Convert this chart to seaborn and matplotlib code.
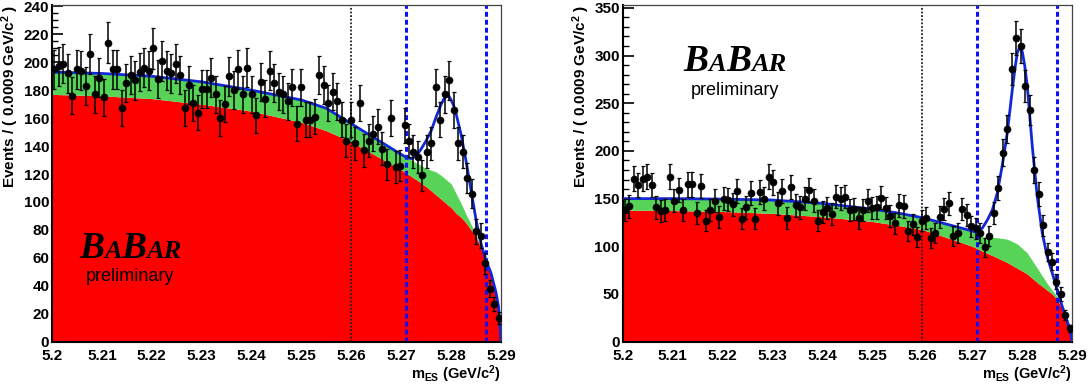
import numpy as np
import seaborn as sns
import matplotlib.pyplot as plt
from matplotlib.ticker import MultipleLocator, FormatStrFormatter
from matplotlib.offsetbox import TextArea, HPacker, VPacker, AnchoredOffsetbox

# binning of m_ES histograms
BIN_LO = 5.2
BIN_W = 0.0009

# ---- left panel ----
counts_1 = [195, 197, 199, 192, 176, 195, 194, 183, 206, 177,
            189, 175, 214, 195, 195, 167, 185, 191, 187, 193,
            196, 194, 210, 188, 201, 194, 192, 199, 191, 167,
            184, 171, 164, 181, 181, 189, 177, 160, 170, 190,
            180, 195, 177, 196, 177, 162, 186, 174, 194, 185,
            179, 177, 172, 182, 156, 182, 159, 159, 161, 191,
            184, 171, 179, 172, 159, 144, 159, 142, 171, 137,
            144, 149, 154, 138, 127, 160, 125, 126, 155, 144,
            136, 132, 119, 136, 142, 182, 159, 177, 187, 166,
            142, 136, 117, 106, 79, 76, 56, 38, 27, 17]

band_x_1 = [5.20, 5.21, 5.22, 5.23, 5.24, 5.25, 5.255, 5.26, 5.265, 5.27, 5.273,
            5.275, 5.277, 5.278, 5.279, 5.28, 5.281, 5.282, 5.283, 5.284, 5.285,
            5.286, 5.287, 5.288, 5.289, 5.2895, 5.29]
red_1 = [177, 176, 174, 170, 165, 157, 151, 143, 133, 123, 116,
         111, 105, 102, 99, 96, 92, 89, 85, 80, 75,
         67, 59, 48, 33, 23, 0]
green_1 = [193, 192, 190, 186, 180, 173, 167, 156, 145, 134, 128,
           124, 121.5, 119, 116, 113, 106, 99, 91, 84, 76,
           68, 59, 48, 33, 23, 0]

fit_x_1 = [5.20, 5.21, 5.22, 5.23, 5.24, 5.25, 5.255, 5.26, 5.265, 5.27, 5.271,
           5.272, 5.273, 5.274, 5.275, 5.276, 5.277, 5.278, 5.2785, 5.279, 5.2795,
           5.28, 5.2805, 5.281, 5.282, 5.283, 5.284, 5.285, 5.286, 5.287, 5.288,
           5.289, 5.2895, 5.29]
fit_1 = [193, 192, 190, 186, 180, 173, 167, 156, 145, 134, 132,
         131, 133, 138, 144, 151, 161, 170, 173.5, 175.5, 176,
         173, 169, 163, 148, 129, 108, 87, 70, 58, 49,
         35, 25, 0]

# ---- right panel ----
counts_2 = [138, 142, 171, 164, 171, 173, 164, 141, 137, 138,
            173, 148, 159, 138, 165, 165, 135, 163, 127, 138,
            148, 131, 150, 149, 144, 158, 129, 141, 156, 129,
            157, 150, 173, 167, 145, 158, 130, 162, 143, 141,
            150, 159, 148, 127, 136, 140, 134, 152, 150, 152,
            138, 139, 130, 138, 148, 140, 141, 151, 140, 132,
            124, 143, 142, 116, 123, 110, 127, 130, 109, 114,
            131, 139, 145, 111, 114, 139, 133, 121, 119, 114,
            99, 111, 135, 161, 198, 223, 286, 318, 310, 268,
            243, 180, 155, 122, 94, 84, 63, 50, 28, 14]

band_x_2 = [5.20, 5.21, 5.22, 5.23, 5.24, 5.25, 5.255, 5.26, 5.265, 5.27, 5.272,
            5.275, 5.277, 5.279, 5.281, 5.283, 5.285, 5.286, 5.287, 5.288, 5.289,
            5.2895, 5.29]
red_2 = [138, 137.5, 136.5, 134.5, 131, 126, 122, 117.5, 109, 100, 95,
         88, 83, 77, 71, 62, 54, 50, 44, 35, 24,
         17, 0]
green_2 = [150, 150, 149.5, 148.5, 145, 139, 135, 130, 123, 115, 110,
           109, 107.5, 102.5, 93, 77, 61, 54, 47, 37, 25,
           17, 0]

fit_x_2 = [5.20, 5.21, 5.22, 5.23, 5.24, 5.25, 5.255, 5.26, 5.265, 5.27, 5.2705,
           5.271, 5.272, 5.273, 5.274, 5.275, 5.276, 5.277, 5.278, 5.2785, 5.279,
           5.2795, 5.28, 5.2805, 5.281, 5.282, 5.283, 5.284, 5.285, 5.286, 5.287,
           5.288, 5.289, 5.2895, 5.29]
fit_2 = [150, 150, 149.5, 148.5, 145, 139, 135, 130, 123, 116, 115,
         116, 119, 127.5, 138, 156, 185, 219, 264, 285, 303,
         309, 304, 289, 268, 205, 152, 114, 89, 72, 54,
         37, 21, 13, 0]

x_ticks = [5.2, 5.21, 5.22, 5.23, 5.24, 5.25, 5.26, 5.27, 5.28, 5.29]
sideband_cut = 5.26
signal_cuts = [5.271, 5.287]

RED = '#ff0000'
GREEN = '#57d457'
BLUE = '#1028d8'

sns.set_style("ticks")
plt.rcParams['font.family'] = ['Liberation Sans', 'DejaVu Sans']
plt.rcParams['text.color'] = 'black'
plt.rcParams['axes.labelcolor'] = 'black'
plt.rcParams['xtick.color'] = 'black'
plt.rcParams['ytick.color'] = 'black'
plt.rcParams['mathtext.fontset'] = 'custom'
plt.rcParams['mathtext.rm'] = 'Liberation Sans:bold'
plt.rcParams['mathtext.it'] = 'Liberation Sans:bold'
plt.rcParams['mathtext.bf'] = 'Liberation Sans:bold'
plt.rcParams['mathtext.default'] = 'rm'


def babar_logo(ax, anchor):
    big = dict(fontsize=27, family='Liberation Serif', weight='bold', style='italic', color='black')
    small = dict(fontsize=19, family='Liberation Serif', weight='bold', style='italic', color='black')
    parts = [TextArea("B", textprops=big), TextArea("A", textprops=small),
             TextArea("B", textprops=big), TextArea("AR", textprops=small)]
    row = HPacker(children=parts, align="baseline", pad=0, sep=0)
    prel = TextArea("preliminary", textprops=dict(fontsize=13, family='Liberation Sans', color='black'))
    box = VPacker(children=[row, prel], align="center", pad=0, sep=2)
    ab = AnchoredOffsetbox(loc='upper left', child=box, pad=0, borderpad=0, frameon=False,
                           bbox_to_anchor=anchor, bbox_transform=ax.transAxes)
    ax.add_artist(ab)


def draw_panel(ax, counts, band_x, red, green, fit_x, fit, ymax, ymajor, yminor, logo_at):
    counts = np.array(counts, dtype=float)
    centers = BIN_LO + BIN_W * (np.arange(len(counts)) + 0.5)

    ax.fill_between(band_x, 0, red, color=RED, lw=0, zorder=1)
    ax.fill_between(band_x, red, green, color=GREEN, lw=0, zorder=1)
    sns.lineplot(x=fit_x, y=fit, ax=ax, color=BLUE, lw=2, sort=False, zorder=3)

    ax.axvline(sideband_cut, color='#222222', ls=(0, (1, 1)), lw=1.3, zorder=2)
    for c in signal_cuts:
        ax.axvline(c, color='#1010ff', ls=(0, (1.6, 1.0)), lw=2.2, zorder=2)

    ax.errorbar(centers, counts, yerr=np.sqrt(counts), fmt='none', ecolor='black',
                elinewidth=1.1, capsize=1.6, capthick=0.9, zorder=4)
    sns.scatterplot(x=centers, y=counts, ax=ax, color='black', s=26, edgecolor='black',
                    linewidth=0.4, zorder=5)

    ax.set_xlim(5.2, 5.29)
    ax.set_ylim(0, ymax)
    ax.set_xticks(x_ticks)
    ax.xaxis.set_major_formatter(FormatStrFormatter('%g'))
    ax.xaxis.set_minor_locator(MultipleLocator(0.002))
    ax.yaxis.set_major_locator(MultipleLocator(ymajor))
    ax.yaxis.set_minor_locator(MultipleLocator(yminor))
    ax.tick_params(which='major', direction='in', length=8, width=1.2, labelsize=11, pad=2,
                   top=False, right=False)
    ax.tick_params(axis='x', which='major', pad=5.5)
    ax.tick_params(which='minor', direction='in', length=4, width=1.0, top=False, right=False)
    for lab in ax.get_xticklabels() + ax.get_yticklabels():
        lab.set_fontweight('bold')

    for s in ['left', 'bottom']:
        ax.spines[s].set_linewidth(1.5)
        ax.spines[s].set_color('black')
    for s in ['top', 'right']:
        ax.spines[s].set_linewidth(0.9)
        ax.spines[s].set_color('#444444')

    ax.set_ylabel('Events / ( 0.0009 GeV/c$^2$ )', fontsize=11, fontweight='bold', loc='top', labelpad=2)
    ax.set_xlabel('m$_{ES}$ (GeV/c$^2$)', fontsize=10.5, fontweight='bold', loc='right', labelpad=0)
    babar_logo(ax, logo_at)


fig = plt.figure(figsize=(10.89, 3.85), dpi=100)
ax1 = fig.add_axes([0.0478, 0.1125, 0.4123, 0.8745])
ax2 = fig.add_axes([0.5718, 0.1125, 0.4128, 0.8745])

draw_panel(ax1, counts_1, band_x_1, red_1, green_1, fit_x_1, fit_1, 241, 20, 5, (0.06, 0.33))
draw_panel(ax2, counts_2, band_x_2, red_2, green_2, fit_x_2, fit_2, 353, 50, 10, (0.135, 0.885))

fig.savefig('out.png', dpi=100)
